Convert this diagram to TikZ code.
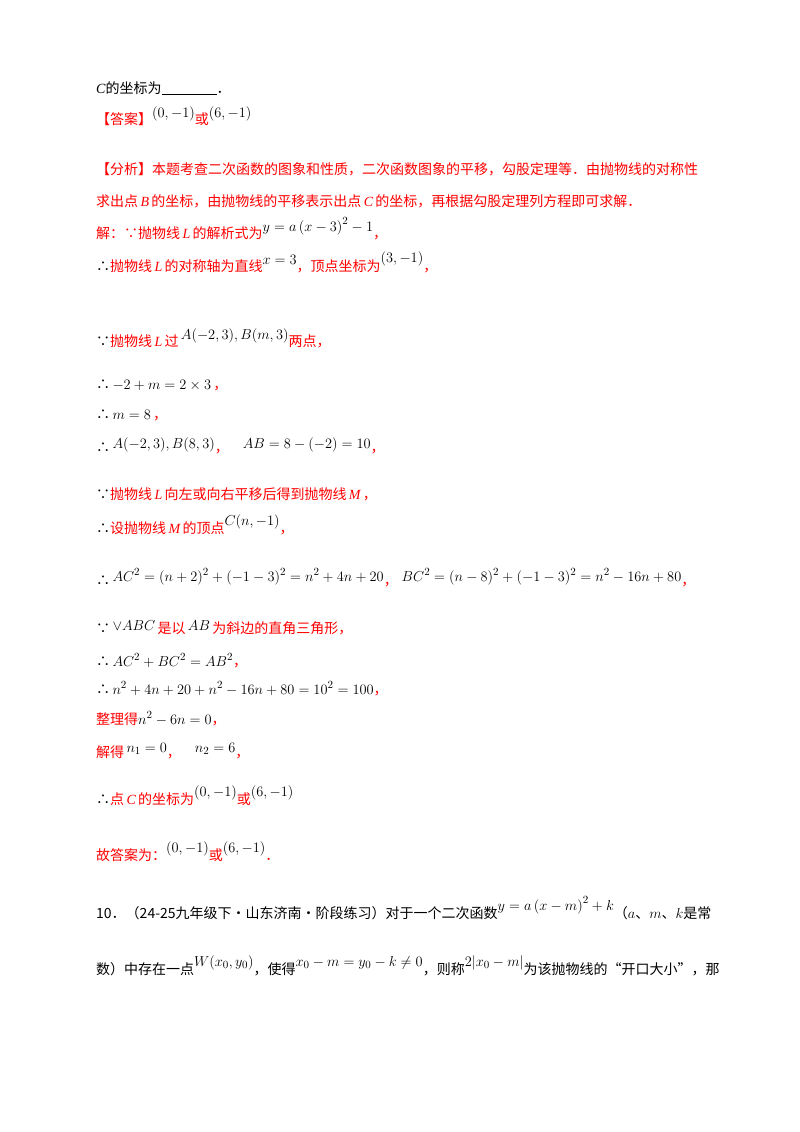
\documentclass[tikz,border=0pt]{standalone}
\usepackage{fontspec}
\setmainfont{Liberation Serif}
\newfontfamily\cjk{Noto Sans CJK SC}
\newcommand\R[1]{\textcolor{red}{\cjk #1}}
\newcommand\K[1]{{\cjk #1}}
\newcommand\Ri[1]{\textcolor{red}{\,\rmfamily\itshape #1\,}}
\newcommand\M[1]{{\fontsize{15}{17}\selectfont$#1$}}
\newcommand\rs[2][7pt]{\raisebox{#1}{\M{#2}}}
\begin{document}
\begin{tikzpicture}[x=1pt,y=-1pt,
  ln/.style={anchor=base west,inner sep=0pt,font=\fontsize{14}{16}\selectfont}]
\useasboundingbox (0,0) rectangle (800,1132);
\fill[white] (0,0) rectangle (800,1132);
\node[ln] (l1) at (96,93) {\textit{C}\K{的坐标为}\rule[-2pt]{55pt}{1pt}\K{．}};
\node[ln] (l2) at (96,124) {\R{【答案】}\rs{(0,-1)}\R{或}\rs{(6,-1)}};
\node[ln] (l3) at (96,174) {\R{【分析】本题考查二次函数的图象和性质，二次函数图象的平移，勾股定理等．由抛物线的对称性}};
\node[ln] (l4) at (96,206) {\R{求出点}\Ri{B}\R{的坐标，由抛物线的平移表示出点}\Ri{C}\R{的坐标，再根据勾股定理列方程即可求解．}};
\node[ln] (l5) at (96,238) {\R{解：∵抛物线}\Ri{L}\R{的解析式为}\rs{y=a\left(x-3\right)^2-1}\R{，}};
\node[ln] (l6) at (96,271) {\K{∴}\R{抛物线}\Ri{L}\R{的对称轴为直线}\rs{x=3}\R{，顶点坐标为}\rs[9pt]{(3,-1)}\R{，}};
\node[ln] (l7) at (96,346) {\K{∵}\R{抛物线}\Ri{L}\R{过}\,\rs{A(-2,3),B(m,3)}\R{两点，}};
\node[ln] (l8) at (96,389) {\K{∴}\,\M{-2+m=2\times3}\,\R{，}};
\node[ln] (l9) at (96,419) {\K{∴}\,\M{m=8}\,\R{，}};
\node[ln] (l10) at (96,452) {\K{∴}\,\rs[4pt]{A(-2,3),B(8,3)}\R{，}\quad\rs[4pt]{AB=8-(-2)=10}\R{，}};
\node[ln] (l11) at (96,499) {\K{∵}\R{抛物线}\Ri{L}\R{向左或向右平移后得到抛物线}\Ri{M}\R{，}};
\node[ln] (l12) at (96,533) {\K{∴}\R{设抛物线}\Ri{M}\R{的顶点}\rs[8pt]{C(n,-1)}\R{，}};
\node[ln] (l13) at (96,585) {\K{∴}\,\rs[4pt]{AC^2=(n+2)^2+(-1-3)^2=n^2+4n+20}\R{，}\;\rs[4pt]{BC^2=(n-8)^2+(-1-3)^2=n^2-16n+80}\R{，}};
\node[ln] (l14) at (96,633) {\K{∵}\,\rs[3pt]{\vee ABC}\,\R{是以}\,\rs[3pt]{AB}\,\R{为斜边的直角三角形，}};
\node[ln] (l15) at (96,666) {\K{∴}\,\M{AC^2+BC^2=AB^2}\R{，}};
\node[ln] (l16) at (96,694) {\K{∴}\,\M{n^2+4n+20+n^2-16n+80=10^2=100}\R{，}};
\node[ln] (l17) at (96,724) {\R{整理得}\M{n^2-6n=0}\R{，}};
\node[ln] (l18) at (96,757) {\R{解得}\,\rs[5pt]{n_1=0}\R{，}\quad\rs[5pt]{n_2=6}\R{，}};
\node[ln] (l19) at (96,804) {\K{∴}\R{点}\Ri{C}\R{的坐标为}\rs[8pt]{(0,-1)}\R{或}\rs[8pt]{(6,-1)}};
\node[ln] (l20) at (96,860) {\R{故答案为：}\rs[8pt]{(0,-1)}\R{或}\rs[8pt]{(6,-1)}\R{．}};
\node[ln] (l21) at (96,918) {\K{10．（24-25九年级下·山东济南·阶段练习）对于一个二次函数}\rs[8pt]{y=a\left(x-m\right)^2+k}\K{（}$a$\K{、}$m$\K{、}$k$\K{是常}};
\node[ln] (l22) at (96,974) {\K{数）中存在一点}\rs[8pt]{W(x_0,y_0)}\K{，使得}\rs[8pt]{x_0-m=y_0-k\neq0}\K{，则称}\rs[8pt]{2|x_0-m|}\K{为该抛物线的“开口大小”，那}};
\end{tikzpicture}
\end{document}
